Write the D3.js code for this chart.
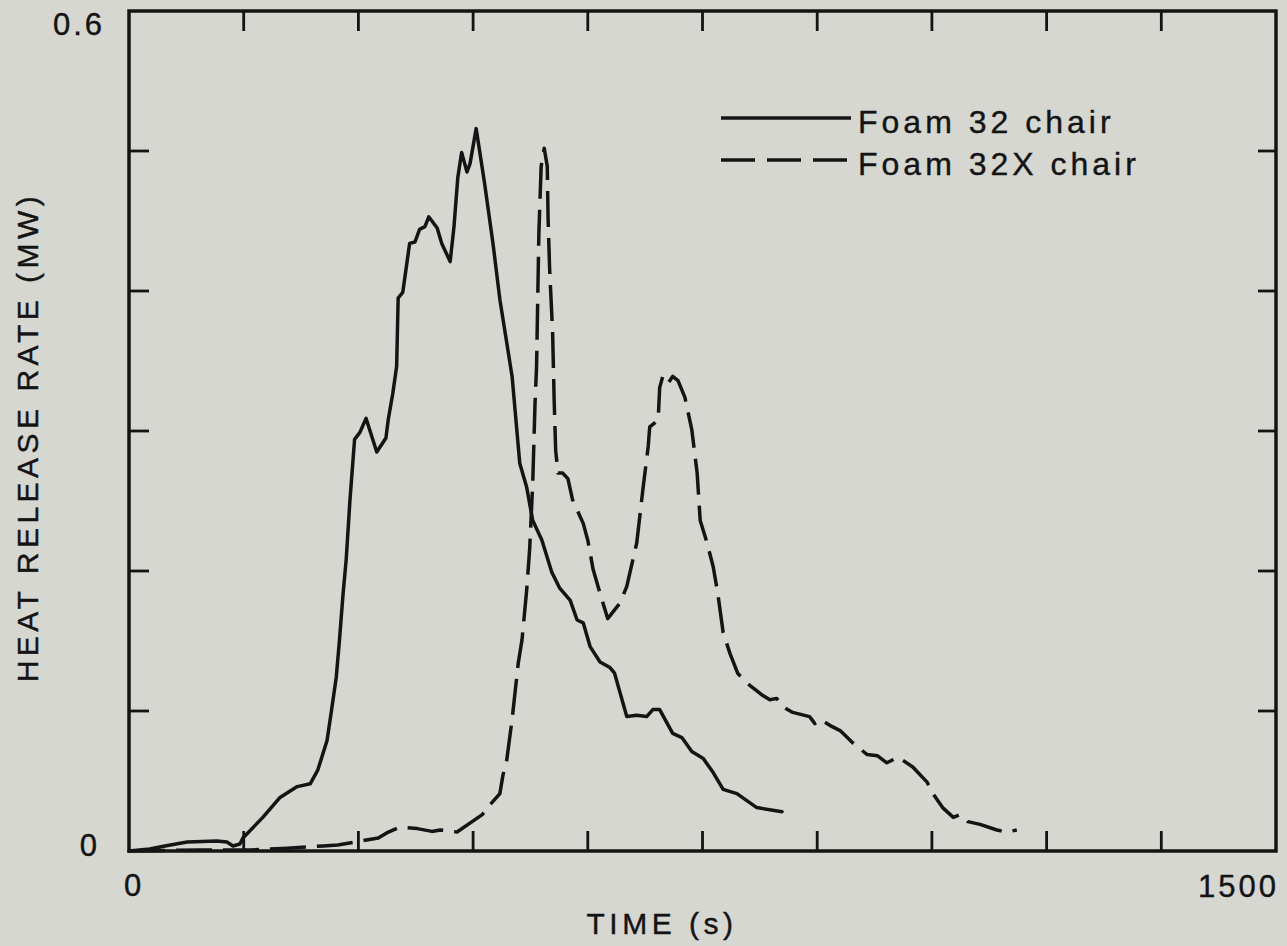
<!DOCTYPE html>
<html>
<head>
<meta charset="utf-8">
<script src="https://cdn.jsdelivr.net/npm/d3@7"></script>
<style>
  html, body { margin: 0; padding: 0; background: #d6d7d1; }
  svg { display: block; }
  text { font-family: "Liberation Sans", Arial, Helvetica, sans-serif; fill: #141414; stroke: #141414; stroke-width: 0.4px; }
</style>
</head>
<body>
<div id="chart"></div>
<script>
// ---- Data (time in s, heat release rate in MW) ----
const foam32Time = [0, 27, 47, 76, 115, 128, 136, 145, 149, 175, 197, 220, 237, 247, 259, 265, 271, 275, 280, 284, 289, 295, 302, 310, 324, 336, 339, 345, 350, 352, 358, 367, 374, 380, 387, 392, 403, 409, 420, 425, 430, 435, 442, 446, 454, 465, 476, 485, 501, 511, 520, 528, 540, 553, 563, 577, 586, 594, 603, 616, 629, 635, 651, 664, 677, 685, 694, 711, 723, 736, 751, 764, 777, 795, 821, 854];
const foam32HRR  = [0, 0.0014, 0.0036, 0.0064, 0.0071, 0.0064, 0.0036, 0.005, 0.0093, 0.024, 0.038, 0.046, 0.048, 0.058, 0.079, 0.101, 0.124, 0.149, 0.184, 0.208, 0.251, 0.294, 0.299, 0.309, 0.285, 0.295, 0.308, 0.327, 0.346, 0.395, 0.399, 0.434, 0.435, 0.444, 0.446, 0.453, 0.445, 0.434, 0.421, 0.446, 0.481, 0.499, 0.485, 0.491, 0.516, 0.477, 0.434, 0.394, 0.339, 0.277, 0.26, 0.236, 0.222, 0.199, 0.188, 0.179, 0.165, 0.163, 0.146, 0.135, 0.131, 0.127, 0.096, 0.097, 0.096, 0.101, 0.101, 0.084, 0.081, 0.071, 0.066, 0.056, 0.044, 0.041, 0.031, 0.028];

const foam32XTime = [0, 93, 158, 207, 254, 273, 326, 337, 354, 377, 396, 407, 429, 462, 472, 485, 489, 494, 501, 509, 514, 520, 524, 528, 531, 533, 536, 539, 543, 547, 548, 550, 554, 556, 558, 561, 567, 574, 580, 594, 600, 607, 616, 626, 642, 651, 664, 672, 679, 681, 688, 692, 694, 698, 705, 711, 718, 727, 736, 743, 747, 756, 764, 770, 777, 786, 796, 808, 829, 838, 847, 855, 868, 890, 897, 904, 919, 930, 947, 965, 979, 991, 1006, 1025, 1044, 1050, 1064, 1078, 1087, 1097, 1113, 1135, 1148, 1161];
const foam32XHRR  = [0, 0.0007, 0.0007, 0.002, 0.0036, 0.0043, 0.0093, 0.0129, 0.017, 0.016, 0.014, 0.015, 0.0136, 0.026, 0.033, 0.041, 0.054, 0.065, 0.094, 0.134, 0.151, 0.186, 0.216, 0.263, 0.32, 0.346, 0.441, 0.489, 0.502, 0.489, 0.453, 0.417, 0.37, 0.322, 0.286, 0.27, 0.27, 0.266, 0.251, 0.234, 0.222, 0.201, 0.184, 0.166, 0.177, 0.189, 0.22, 0.258, 0.289, 0.303, 0.306, 0.308, 0.331, 0.339, 0.334, 0.339, 0.336, 0.324, 0.301, 0.27, 0.236, 0.22, 0.203, 0.184, 0.156, 0.141, 0.127, 0.12, 0.111, 0.108, 0.109, 0.103, 0.099, 0.096, 0.091, 0.094, 0.089, 0.086, 0.077, 0.069, 0.068, 0.063, 0.067, 0.06, 0.049, 0.042, 0.031, 0.024, 0.026, 0.021, 0.019, 0.015, 0.0136, 0.015];

const seriesNames = ["Foam 32 chair", "Foam 32X chair"];
const xTickValues = [150, 300, 450, 600, 750, 900, 1050, 1200, 1350];
const yTickValues = [0.1, 0.2, 0.3, 0.4, 0.5];
const xTickLabels = ["0", "1500"];
const yTickLabels = ["0", "0.6"];
const xAxisTitle = "TIME (s)";
const yAxisTitle = "HEAT RELEASE RATE (MW)";

// ---- Layout ----
const W = 1287, H = 946;
const mLeft = 129, mRight = 1276, mTop = 11, mBottom = 851;
const ink = "#141414";

const svg = d3.select("#chart").append("svg")
  .attr("width", W).attr("height", H);

svg.append("rect").attr("width", W).attr("height", H).attr("fill", "#d6d7d1").attr("stroke", "none");

const x = d3.scaleLinear().domain([0, 1500]).range([mLeft, mRight]);
const y = d3.scaleLinear().domain([0, 0.6]).range([mBottom, mTop]);

// Curves
const line = d3.line().x(d => x(d[0])).y(d => y(d[1]));
const solid = foam32Time.map((t, i) => [t, foam32HRR[i]]);
const dashed = foam32XTime.map((t, i) => [t, foam32XHRR[i]]);

svg.append("path").datum(solid).attr("d", line)
  .attr("fill", "none").attr("stroke", ink).attr("stroke-width", 3.5)
  .attr("stroke-linejoin", "round").attr("stroke-linecap", "round");

svg.append("path").datum(dashed).attr("d", line)
  .attr("fill", "none").attr("stroke", ink).attr("stroke-width", 3.5)
  .attr("stroke-dasharray", "36,11")
  .attr("stroke-linejoin", "round");

// Frame
svg.append("rect")
  .attr("x", mLeft).attr("y", mTop)
  .attr("width", mRight - mLeft).attr("height", mBottom - mTop)
  .attr("fill", "none").attr("stroke", ink).attr("stroke-width", 3.5);

// Inward ticks
const tickLen = 20;
const tg = svg.append("g").attr("stroke", ink).attr("stroke-width", 2.8);
xTickValues.forEach(v => {
  tg.append("line").attr("x1", x(v)).attr("x2", x(v)).attr("y1", mTop).attr("y2", mTop + tickLen);
  tg.append("line").attr("x1", x(v)).attr("x2", x(v)).attr("y1", mBottom).attr("y2", mBottom - tickLen);
});
yTickValues.forEach(v => {
  tg.append("line").attr("x1", mLeft).attr("x2", mLeft + tickLen).attr("y1", y(v)).attr("y2", y(v));
  tg.append("line").attr("x1", mRight).attr("x2", mRight - tickLen + 2).attr("y1", y(v)).attr("y2", y(v));
});

// Tick labels
const fs = 31, ls = 3;
function txt(s, px, py, anchor) {
  return svg.append("text").attr("x", px).attr("y", py)
    .attr("text-anchor", anchor)
    .style("font-size", fs + "px").style("letter-spacing", ls + "px")
    .text(s);
}
txt(yTickLabels[0], 100, y(0) + 5, "end");
txt(yTickLabels[1], 105, y(0.6) + 24, "end");
txt(xTickLabels[0], x(0) + 5, mBottom + 45, "middle");
txt(xTickLabels[1], x(1500) + ls, mBottom + 46, "end");

// Axis titles
svg.append("text")
  .attr("x", 662).attr("y", 934).attr("text-anchor", "middle")
  .style("font-size", "30px").style("letter-spacing", "4.5px")
  .text(xAxisTitle);

svg.append("text")
  .attr("transform", "translate(38,437) rotate(-90)")
  .attr("text-anchor", "middle")
  .style("font-size", "30px").style("letter-spacing", "4.5px")
  .text(yAxisTitle);

// Legend
const legendRows = [
  { name: seriesNames[0], dash: null, yy: 118 },
  { name: seriesNames[1], dash: "34,12", yy: 160 }
];
legendRows.forEach(r => {
  const l = svg.append("line")
    .attr("x1", 721).attr("x2", 851).attr("y1", r.yy).attr("y2", r.yy)
    .attr("stroke", ink).attr("stroke-width", 3.5);
  if (r.dash) l.attr("stroke-dasharray", r.dash);
  svg.append("text").attr("x", 858).attr("y", r.yy + 15)
    .style("font-size", "32px").style("letter-spacing", "4px")
    .text(r.name);
});
</script>
</body>
</html>
